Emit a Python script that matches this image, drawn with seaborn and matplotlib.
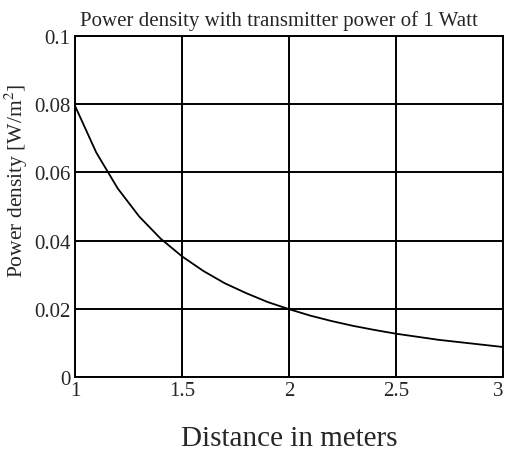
import matplotlib
matplotlib.use("Agg")
import matplotlib.pyplot as plt
import seaborn as sns
import pandas as pd

distance = [1.0, 1.1, 1.2, 1.3, 1.4, 1.5, 1.6, 1.7, 1.8, 1.9, 2.0,
            2.1, 2.2, 2.3, 2.4, 2.5, 2.6, 2.7, 2.8, 2.9, 3.0]
density = [0.0796, 0.0658, 0.0553, 0.0471, 0.0406, 0.0354, 0.0311, 0.0275,
           0.0246, 0.0220, 0.0199, 0.0180, 0.0164, 0.0150, 0.0138, 0.0127,
           0.0118, 0.0109, 0.0102, 0.0095, 0.0088]
xticks = [1, 1.5, 2, 2.5, 3]
xtick_labels = ["1", "1.5", "2", "2.5", "3"]
yticks = [0, 0.02, 0.04, 0.06, 0.08, 0.1]
ytick_labels = ["0", "0.02", "0.04", "0.06", "0.08", "0.1"]

sns.set_style("white")
plt.rcParams['font.family'] = ['Liberation Serif', 'DejaVu Serif']
plt.rcParams['mathtext.fontset'] = 'stix'

df = pd.DataFrame({"distance": distance, "density": density})

fig = plt.figure(figsize=(5.06, 4.56), dpi=100)
ax = fig.add_axes([0.148, 0.171, 0.846, 0.748])
sns.lineplot(data=df, x="distance", y="density", ax=ax, color="black", linewidth=1.3)

ax.set_xlim(1, 3)
ax.set_ylim(0, 0.1)
ax.set_xticks(xticks)
ax.set_xticklabels(xtick_labels, fontsize=15)
ax.get_xticklabels()[-1].set_horizontalalignment('right')
ax.set_yticks(yticks)
ax.set_yticklabels(ytick_labels, fontsize=15)
ax.tick_params(axis='both', length=0, pad=3)
ax.grid(True, color="black", linewidth=1.4)
for s in ax.spines.values():
    s.set_color("black")
    s.set_linewidth(1.4)
ax.set_title("Power density with transmitter power of 1 Watt", fontsize=15, pad=8, x=0.477)
ax.set_xlabel("Distance in meters", fontsize=21, labelpad=18)
ax.set_ylabel(r"Power density [W/m$^2$]", fontsize=15.5)
ax.yaxis.set_label_coords(-0.105, 0.578)

fig.savefig("out.png", dpi=100)
